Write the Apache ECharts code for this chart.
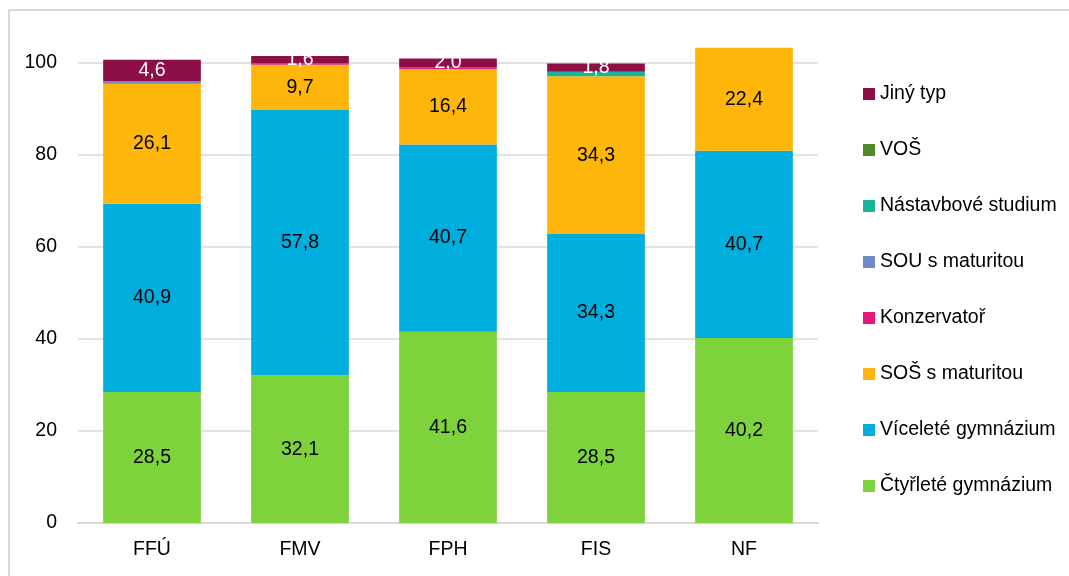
<!DOCTYPE html>
<html>
<head>
    <meta charset="utf-8">
    <script src="https://cdn.jsdelivr.net/npm/echarts@6/dist/echarts.min.js"></script>
</head>
<body style="margin:0; background:#fff;">
    <div id="main" style="width:1069px; height:576px;"></div>
</body>
<script type="text/javascript">
    // faculties
    const categories = ['FFÚ', 'FMV', 'FPH', 'FIS', 'NF'];

    // share of students by type of secondary school (%)
    const ctyrlete = [28.5, 32.1, 41.6, 28.5, 40.2];
    const vicelete = [40.9, 57.8, 40.7, 34.3, 40.7];
    const sos = [26.1, 9.7, 16.4, 34.3, 22.4];
    const konzervator = [0, 0.3, 0.3, 0, 0];
    const sou = [0.6, 0, 0, 0, 0];
    const nastavbove = [0, 0, 0, 1.0, 0];
    const vos = [0, 0, 0, 0, 0];
    const jiny = [4.6, 1.6, 2.0, 1.8, 0];

    const yTicks = [0, 20, 40, 60, 80, 100];

    const font = '"Liberation Sans", Arial, sans-serif';
    const fs = 19.5;

    function mkSeries(name, data, color, labelColor) {
        return {
            name: name,
            type: 'bar',
            stack: 'total',
            data: data,
            barWidth: '66%',
            clip: false,
            itemStyle: { color: color },
            label: {
                show: true,
                position: 'inside',
                color: labelColor,
                fontFamily: font,
                fontSize: fs,
                formatter: p => p.value >= 1.5 ? p.value.toFixed(1).replace('.', ',') : ''
            }
        };
    }

    const myChart = echarts.init(document.getElementById('main'));

    const option = {
        animation: false,
        backgroundColor: '#fff',
        graphic: [{
            type: 'rect',
            shape: { x: 9, y: 10, width: 1100, height: 600 },
            style: { fill: 'none', stroke: '#d9d9d9', lineWidth: 2 }
        }],
        grid: { left: 78, right: 251, top: 63, bottom: 53 },
        legend: {
            orient: 'vertical',
            left: 858,
            top: 79,
            itemWidth: 12,
            itemHeight: 12,
            itemGap: 36,
            icon: 'rect',
            textStyle: { fontFamily: font, fontSize: fs, color: '#000', lineHeight: 20 },
            data: ['Jiný typ', 'VOŠ', 'Nástavbové studium', 'SOU s maturitou',
                   'Konzervatoř', 'SOŠ s maturitou', 'Víceleté gymnázium', 'Čtyřleté gymnázium']
        },
        xAxis: {
            type: 'category',
            data: categories,
            axisLine: { lineStyle: { color: '#d9d9d9', width: 2 } },
            axisTick: { show: false },
            axisLabel: { color: '#000', fontFamily: font, fontSize: fs, margin: 17 }
        },
        yAxis: {
            type: 'value',
            min: yTicks[0],
            max: yTicks[yTicks.length - 1],
            interval: 20,
            axisLine: { show: false },
            axisTick: { show: false },
            splitLine: { lineStyle: { color: '#d9d9d9', width: 1.5 } },
            axisLabel: { color: '#000', fontFamily: font, fontSize: fs, margin: 21 }
        },
        series: [
            mkSeries('Čtyřleté gymnázium', ctyrlete, '#7ED23C', '#000'),
            mkSeries('Víceleté gymnázium', vicelete, '#00AEDD', '#000'),
            mkSeries('SOŠ s maturitou', sos, '#FFB60B', '#000'),
            mkSeries('Konzervatoř', konzervator, '#E8177A', '#000'),
            mkSeries('SOU s maturitou', sou, '#7188C8', '#000'),
            mkSeries('Nástavbové studium', nastavbove, '#1BB49A', '#000'),
            mkSeries('VOŠ', vos, '#4E8A25', '#000'),
            mkSeries('Jiný typ', jiny, '#8C0F48', '#fff')
        ]
    };
    myChart.setOption(option);
</script>
</html>
